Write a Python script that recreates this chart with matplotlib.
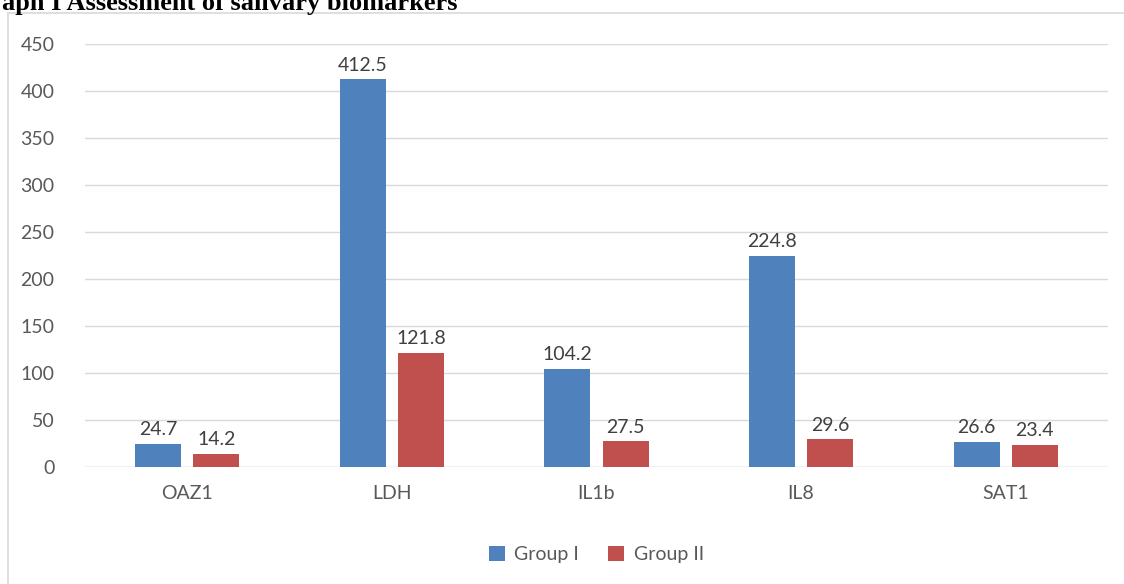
import numpy as np
import matplotlib.pyplot as plt
from matplotlib.lines import Line2D

categories = ['OAZ1', 'LDH', 'IL1b', 'IL8', 'SAT1']
group1 = [24.7, 412.5, 104.2, 224.8, 26.6]
group2 = [14.2, 121.8, 27.5, 29.6, 23.4]
series_names = ['Group I', 'Group II']
yticks = [0, 50, 100, 150, 200, 250, 300, 350, 400, 450]

blue = '#4F81BD'
red = '#C0504D'
txt = '#595959'

plt.rcParams['font.family'] = ['Lato', 'DejaVu Sans']

W, H = 1124, 584
fig = plt.figure(figsize=(W / 100, H / 100), dpi=100)
ax = fig.add_axes([85 / W, 1 - 467 / H, (1108 - 85) / W, (467 - 44) / H])

x = np.arange(len(categories))
bw = 0.225
gap = 0.06
b1 = ax.bar(x - (bw + gap) / 2, group1, bw, color=blue, label=series_names[0], zorder=3)
b2 = ax.bar(x + (bw + gap) / 2, group2, bw, color=red, label=series_names[1], zorder=3)

for bars in (b1, b2):
    for r in bars:
        ax.annotate(f'{r.get_height():.1f}', (r.get_x() + r.get_width() / 2, r.get_height()),
                    xytext=(0, 4), textcoords='offset points', ha='center', va='bottom',
                    fontsize=14, color='#404040')

ax.set_xlim(-0.5, len(categories) - 0.5)
ax.set_ylim(0, 450)
ax.set_yticks(yticks)
ax.set_xticks(x)
ax.set_xticklabels(categories)
ax.yaxis.grid(True, color='#D9D9D9', linewidth=1, zorder=0)
ax.tick_params(axis='both', length=0, labelsize=14, labelcolor=txt)
ax.tick_params(axis='y', pad=22)
ax.tick_params(axis='x', pad=13)
for s in ax.spines.values():
    s.set_visible(False)
ax.axhline(0, color='#D9D9D9', linewidth=1, zorder=2)

ax.legend(loc='upper center', bbox_to_anchor=(0.5, -0.145), ncol=2, frameon=False,
          fontsize=14, labelcolor=txt, handlelength=0.8, handleheight=0.8,
          columnspacing=1.5, handletextpad=0.5)

# outer chart frame (left and top edges visible)
fig.add_artist(Line2D([8 / W, 8 / W], [0, 1 - 13 / H], color='#D9D9D9', linewidth=1.2))
fig.add_artist(Line2D([8 / W, 1], [1 - 13 / H, 1 - 13 / H], color='#D9D9D9', linewidth=1.2))

fig.text(2 / W, 1 - 10 / H, 'aph I Assessment of salivary biomarkers', fontsize=19,
         fontweight='bold', family='Liberation Serif', ha='left', va='baseline', color='black')

fig.savefig('out.png', dpi=100)
